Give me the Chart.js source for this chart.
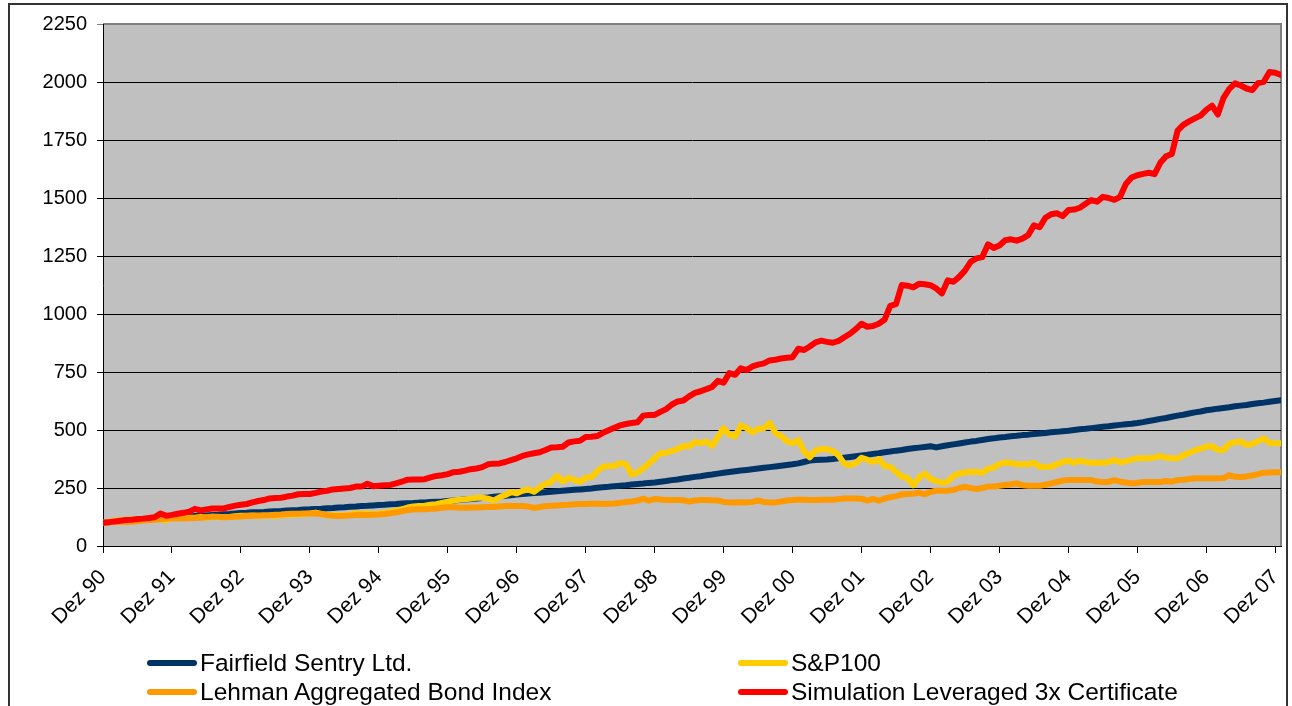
<!DOCTYPE html>
<html>
<head>
<meta charset="utf-8">
<script src="https://cdn.jsdelivr.net/npm/chart.js@4.4.1/dist/chart.umd.min.js"></script>
<style>
  body { margin: 0; width: 1292px; height: 706px; overflow: hidden; position: relative; background: #fff;
         font-family: "Liberation Sans", Arial, sans-serif; }
  #frame { position: absolute; left: 8px; top: 3px; width: 1276px; height: 740px; border: 2px solid #333; }
  #chart { position: absolute; left: 0; top: 0; }
  .item { position: absolute; height: 28px; display: flex; align-items: center; font-size: 24.5px; color: #000; white-space: nowrap; }
  .swatch { width: 50px; height: 6px; border-radius: 3px; margin-right: 3px; }
</style>
</head>
<body>
<div id="frame"></div>
<canvas id="chart" width="1292" height="706"></canvas>
<div id="legend"></div>
<script>
// x axis labels, one every 12 months (Dez 90 ... Dez 07)
var tickLabels = ["Dez 90", "Dez 91", "Dez 92", "Dez 93", "Dez 94", "Dez 95", "Dez 96", "Dez 97", "Dez 98",
    "Dez 99", "Dez 00", "Dez 01", "Dez 02", "Dez 03", "Dez 04", "Dez 05", "Dez 06", "Dez 07"];

var seriesNames = ["Fairfield Sentry Ltd.", "S&P100", "Lehman Aggregated Bond Index", "Simulation Leveraged 3x Certificate"];
var seriesColors = ["#003366", "#ffcc00", "#ff9900", "#ff0000"];

// monthly values, Dez 90 = 100
var fairfield = [
    100, 102, 104, 105, 107, 109, 111, 113, 115, 116, 118, 120, 122,
    124, 125, 127, 129, 130, 132, 134, 135, 137, 138, 140, 142,
    143, 145, 146, 147, 149, 150, 151, 153, 154, 155, 157, 158,
    160, 161, 163, 164, 166, 167, 169, 170, 172, 173, 175, 177,
    178, 180, 181, 183, 184, 185, 187, 188, 190, 191, 192, 194,
    196, 198, 200, 203, 205, 207, 209, 212, 214, 216, 219, 222,
    224, 226, 228, 230, 232, 234, 236, 238, 240, 242, 244, 246,
    248, 251, 253, 255, 258, 260, 262, 265, 267, 269, 272, 274,
    277, 280, 284, 287, 291, 294, 298, 301, 305, 308, 312, 316,
    319, 322, 325, 328, 331, 334, 337, 340, 343, 346, 349, 352,
    356, 362, 368, 371, 372, 373, 375, 378, 381, 384, 387, 390,
    393, 397, 400, 404, 407, 411, 414, 418, 421, 424, 427, 430,
    425, 430, 434, 438, 442, 446, 450, 453, 457, 461, 464, 468,
    470, 473, 475, 478, 480, 483, 485, 487, 490, 492, 495, 497,
    500, 503, 505, 508, 511, 514, 516, 519, 522, 525, 527, 530,
    534, 539, 543, 548, 552, 557, 562, 566, 571, 576, 580, 585,
    588, 592, 595, 598, 602, 605, 608, 612, 615, 618, 622, 625,
    628
];

var sp100 = [
    100, 104, 110, 112, 112, 116, 110, 114, 117, 114, 116, 111, 124,
    122, 124, 122, 122, 125, 122, 126, 124, 124, 125, 128, 130,
    130, 131, 129, 131, 131, 129, 133, 135, 135, 137, 137, 140,
    144, 138, 132, 133, 134, 132, 137, 141, 138, 141, 137, 140,
    143, 147, 152, 158, 166, 170, 172, 174, 178, 180, 186, 191,
    196, 199, 201, 205, 208, 208, 204, 196, 210, 220, 232, 227,
    238, 244, 234, 252, 268, 277, 302, 278, 294, 285, 277, 294,
    297, 322, 342, 345, 345, 358, 352, 308, 318, 335, 356, 378,
    400, 402, 410, 418, 431, 430, 448, 444, 450, 432, 470, 508,
    480, 472, 520, 508, 490, 505, 507, 530, 488, 474, 452, 443,
    456, 408, 382, 412, 418, 417, 410, 390, 355, 348, 358, 380,
    372, 362, 375, 345, 342, 320, 299, 293, 262, 295, 312, 290,
    280, 273, 277, 302, 312, 318, 319, 320, 316, 333, 338, 354,
    360, 358, 352, 352, 352, 359, 342, 342, 342, 352, 362, 368,
    359, 368, 362, 359, 359, 359, 362, 371, 361, 366, 372, 378,
    378, 378, 382, 388, 380, 378, 378, 390, 402, 412, 420, 428,
    431, 414, 414, 440, 448, 450, 436, 440, 452, 464, 444, 443,
    443
];

var lehman = [
    100, 102, 103, 104, 103, 104, 107, 110, 112, 113, 115, 117, 119,
    118, 119, 120, 121, 122, 124, 126, 126, 124, 125, 126, 127,
    129, 130, 131, 132, 133, 135, 136, 138, 139, 139, 140, 140,
    141, 138, 133, 130, 129, 130, 132, 134, 135, 134, 135, 136,
    138, 141, 145, 150, 155, 157, 158, 158, 160, 162, 165, 167,
    167, 165, 165, 166, 166, 167, 168, 168, 170, 172, 172, 172,
    172, 170, 164, 168, 172, 173, 175, 177, 178, 180, 181, 181,
    182, 182, 181, 182, 183, 186, 190, 192, 196, 204, 195, 203,
    200, 198, 198, 198, 197, 192, 196, 198, 198, 197, 196, 190,
    188, 188, 189, 188, 190, 196, 190, 188, 188, 192, 196, 198,
    199, 199, 198, 198, 199, 199, 199, 202, 205, 205, 205, 204,
    196, 203, 195, 205, 210, 215, 222, 224, 225, 230, 223, 233,
    238, 238, 238, 242, 250, 255, 250, 245, 250, 256, 256, 260,
    263, 266, 270, 262, 260, 260, 260, 264, 270, 276, 282, 284,
    284, 284, 284, 284, 278, 276, 276, 284, 277, 274, 270, 272,
    276, 276, 276, 276, 280, 277, 284, 286, 289, 292, 292, 292,
    292, 292, 293, 305, 298, 297, 300, 304, 310, 316, 317, 318,
    318
];

var simulation = [
    100, 103, 106, 109, 112, 113, 116, 118, 121, 124, 140, 130,
    134, 139, 143, 148, 160, 153, 158, 162, 162, 162, 168, 174,
    178, 181, 188, 194, 198, 205, 207, 208, 213, 217, 223, 224,
    224, 229, 235, 238, 244, 246, 248, 250, 256, 256, 268, 258,
    260, 262, 263, 270, 277, 286, 287, 287, 288, 296, 302, 305,
    310, 318, 320, 325, 331, 334, 340, 352, 355, 356, 362, 370,
    378, 388, 395, 400, 404, 414, 425, 426, 428, 446, 451, 454,
    470, 471, 474, 488, 499, 510, 520, 526, 530, 533, 562, 565,
    565, 578, 590, 610, 623, 627, 645, 660, 667, 676, 686, 712,
    704, 745, 738, 766, 758, 774, 782, 787, 800, 803, 808, 811,
    814, 850, 845, 860, 878, 885, 880, 876, 884, 900, 915, 935,
    958, 945, 948, 958, 975, 1035, 1043, 1125, 1122, 1115, 1130, 1128,
    1124, 1110, 1089, 1145, 1139, 1160, 1187, 1225, 1240, 1245, 1300, 1285,
    1295, 1318, 1322, 1316, 1325, 1340, 1382, 1374, 1415, 1430, 1434, 1422,
    1448, 1450, 1458, 1475, 1491, 1484, 1505, 1500, 1492, 1505, 1560, 1588,
    1598, 1604, 1609, 1603, 1652, 1680, 1690, 1790, 1815, 1830, 1843, 1855,
    1880, 1898, 1860, 1932, 1970, 1994, 1985, 1972, 1965, 1995, 2001, 2043,
    2040, 2030
];

var allSeries = [fairfield, sp100, lehman, simulation];
var fontFamily = "'Liberation Sans', Arial, sans-serif";

function toPoints(arr) {
    return arr.map(function (v, i) { return { x: i, y: v }; });
}

var plotBg = {
    id: 'plotBg',
    beforeDraw: function (chart) {
        var ctx = chart.ctx, a = chart.chartArea;
        ctx.save();
        ctx.fillStyle = '#c0c0c0';
        ctx.fillRect(a.left, a.top, a.right - a.left, a.bottom - a.top);
        ctx.strokeStyle = '#808080';
        ctx.lineWidth = 2;
        ctx.beginPath();
        ctx.moveTo(a.left, a.top);
        ctx.lineTo(a.right, a.top);
        ctx.lineTo(a.right, a.bottom);
        ctx.stroke();
        ctx.restore();
    }
};

var datasets = [];
for (var i = 0; i < allSeries.length; i++) {
    datasets.push({
        label: seriesNames[i],
        data: toPoints(allSeries[i]),
        borderColor: seriesColors[i],
        backgroundColor: seriesColors[i],
        borderWidth: 6,
        pointRadius: 0,
        tension: 0,
        borderJoinStyle: 'round',
        borderCapStyle: 'round',
        order: allSeries.length - i
    });
}

var ctx = document.getElementById('chart').getContext('2d');
var myChart = new Chart(ctx, {
    type: 'line',
    data: { datasets: datasets },
    plugins: [plotBg],
    options: {
        responsive: false,
        animation: false,
        devicePixelRatio: 1,
        layout: { padding: { left: 0, top: 24, right: 11, bottom: 0 } },
        plugins: { legend: { display: false }, tooltip: { enabled: false } },
        scales: {
            x: {
                type: 'linear',
                min: 0,
                max: allSeries[0].length - 1,
                ticks: {
                    stepSize: 12,
                    includeBounds: false,
                    autoSkip: false,
                    minRotation: 45,
                    maxRotation: 45,
                    padding: 12,
                    color: '#000',
                    font: { family: fontFamily, size: 21 },
                    callback: function (v) { return tickLabels[Math.round(v / 12)]; }
                },
                grid: { drawOnChartArea: false, color: '#000', tickLength: 7 },
                border: { color: '#000', width: 1 },
                afterFit: function (s) { s.height = 706 - 546; s.paddingLeft = 0; s.paddingRight = 0; }
            },
            y: {
                min: 0,
                max: 2250,
                ticks: {
                    stepSize: 250,
                    padding: 10,
                    color: '#000',
                    font: { family: fontFamily, size: 20 },
                    callback: function (v) { return String(v); }
                },
                grid: {
                    color: function (c) { return c.tick && c.tick.value === 2250 ? '#808080' : '#000'; },
                    lineWidth: 1,
                    tickLength: 6
                },
                border: { color: '#000', width: 1 },
                afterFit: function (s) { s.width = 103; }
            }
        }
    }
});

// legend in two columns like the original
var legend = document.getElementById('legend');
var colX = [147, 738], rowY = [649, 678];
for (var k = 0; k < seriesNames.length; k++) {
    var item = document.createElement('div');
    item.className = 'item';
    item.style.left = colX[k % 2] + 'px';
    item.style.top = rowY[Math.floor(k / 2)] + 'px';
    item.innerHTML = "<span class='swatch' style='background:" + seriesColors[k] + "'></span><span></span>";
    item.lastChild.textContent = seriesNames[k];
    legend.appendChild(item);
}
</script>
</body>
</html>
